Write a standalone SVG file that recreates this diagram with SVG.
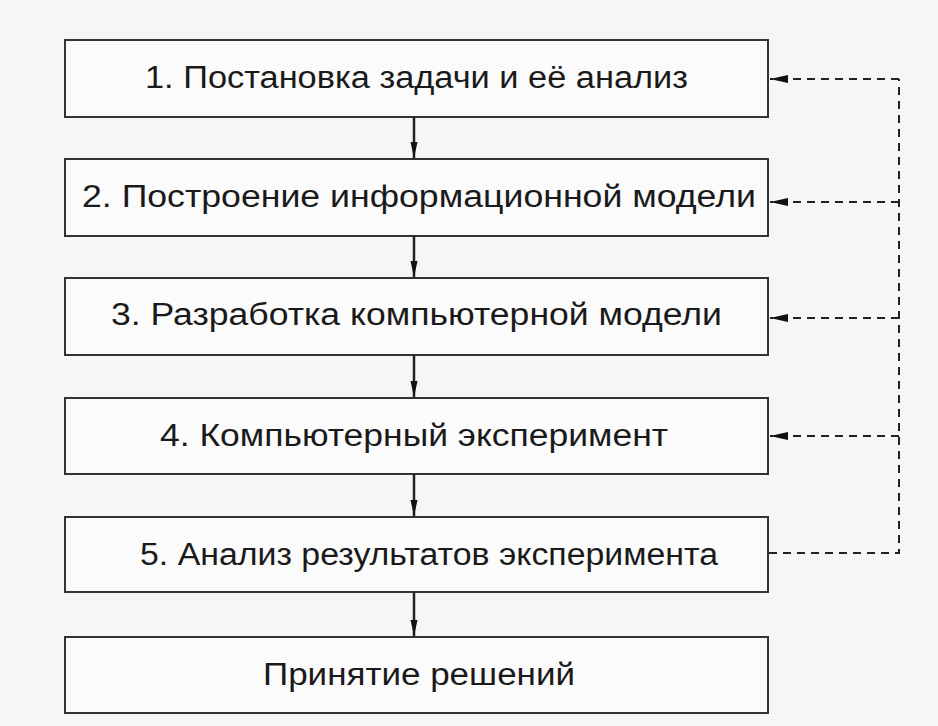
<svg xmlns="http://www.w3.org/2000/svg" width="938" height="726" viewBox="0 0 938 726">
<defs>
<style>
.box{fill:#fbfbfb;stroke:#333;stroke-width:2}
.lbl{font-family:"Liberation Sans",Arial,sans-serif;font-size:31px;fill:#1a1a1a}
.solid{stroke:#222;stroke-width:2.5;fill:none}
.dash{stroke:#222;stroke-width:2;fill:none;stroke-dasharray:8 6}
</style>
<marker id="ah2" viewBox="0 0 16 10" refX="16" refY="5" markerWidth="16" markerHeight="10" markerUnits="userSpaceOnUse" orient="auto">
<path d="M0,1.5 L16,5 L0,8.5 Z" fill="#111"/>
</marker>
<marker id="ah3" viewBox="0 0 18 11" refX="18" refY="5.5" markerWidth="18" markerHeight="11" markerUnits="userSpaceOnUse" orient="auto">
<path d="M0,1.5 L18,5.5 L0,9.5 Z" fill="#111"/>
</marker>
</defs>
<rect width="938" height="726" fill="#f6f6f6"/>
<g id="n1"><rect class="box" x="65" y="40" width="703" height="77"/><text class="lbl" x="145" y="88" textLength="543" lengthAdjust="spacingAndGlyphs">1. Постановка задачи и её анализ</text></g>
<g id="n2"><rect class="box" x="65" y="159" width="703" height="77"/><text class="lbl" x="82" y="207" textLength="674" lengthAdjust="spacingAndGlyphs">2. Построение информационной модели</text></g>
<g id="n3"><rect class="box" x="65" y="278" width="703" height="77"/><text class="lbl" x="111" y="325" textLength="611" lengthAdjust="spacingAndGlyphs">3. Разработка компьютерной модели</text></g>
<g id="n4"><rect class="box" x="65" y="398" width="703" height="76"/><text class="lbl" x="160" y="446" textLength="508" lengthAdjust="spacingAndGlyphs">4. Компьютерный эксперимент</text></g>
<g id="n5"><rect class="box" x="65" y="517" width="703" height="75"/><text class="lbl" x="140" y="565" textLength="578" lengthAdjust="spacingAndGlyphs">5. Анализ результатов эксперимента</text></g>
<g id="n6"><rect class="box" x="65" y="637" width="703" height="76"/><text class="lbl" x="263" y="685" textLength="312" lengthAdjust="spacingAndGlyphs">Принятие решений</text></g>
<g id="connectors">
<line class="solid" x1="414" y1="117" x2="414" y2="158" marker-end="url(#ah2)"/>
<line class="solid" x1="414" y1="236" x2="414" y2="277" marker-end="url(#ah2)"/>
<line class="solid" x1="414" y1="355" x2="414" y2="397" marker-end="url(#ah2)"/>
<line class="solid" x1="414" y1="474" x2="414" y2="516" marker-end="url(#ah2)"/>
<line class="solid" x1="414" y1="592" x2="414" y2="636" marker-end="url(#ah2)"/>
<polyline class="dash" points="769,553 899,553 899,79"/>
<line class="dash" x1="899" y1="79" x2="770" y2="79" marker-end="url(#ah3)"/>
<line class="dash" x1="899" y1="202" x2="770" y2="202" marker-end="url(#ah3)"/>
<line class="dash" x1="899" y1="318" x2="770" y2="318" marker-end="url(#ah3)"/>
<line class="dash" x1="899" y1="436" x2="770" y2="436" marker-end="url(#ah3)"/>
</g>
</svg>
